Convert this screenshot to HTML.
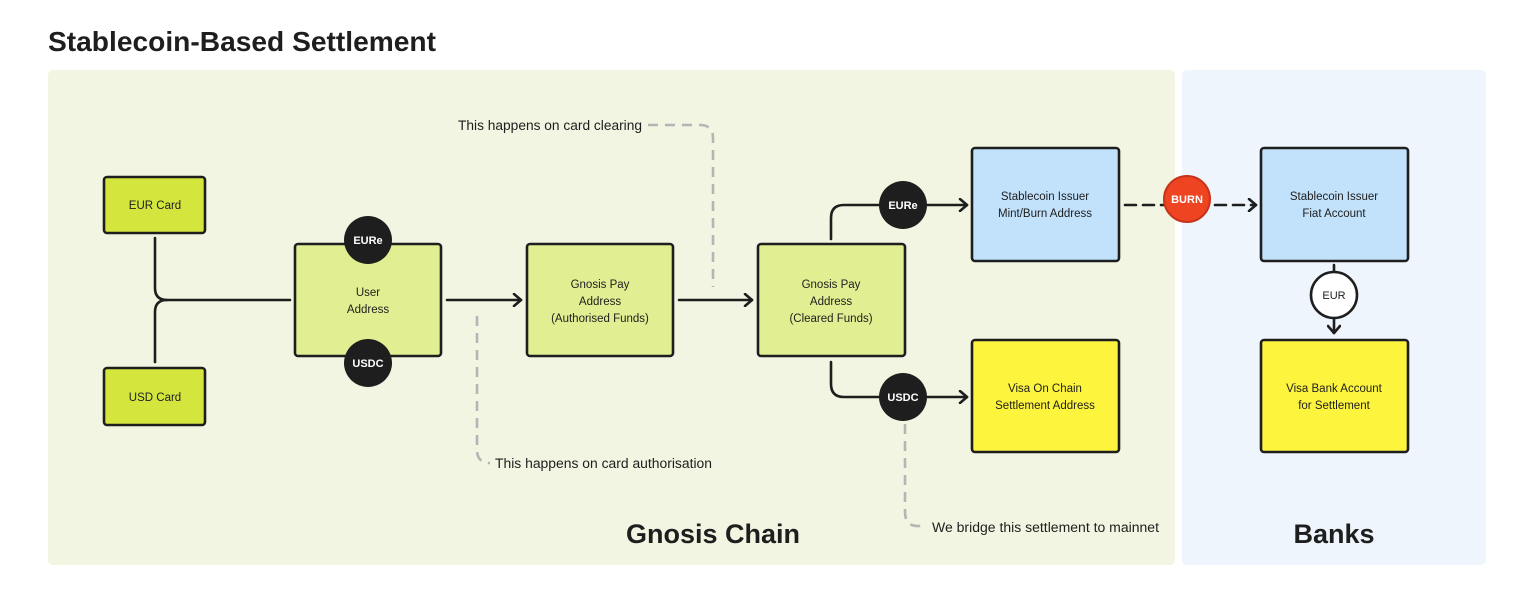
<!DOCTYPE html>
<html><head><meta charset="utf-8"><style>
html,body{margin:0;padding:0;background:#fff;width:1522px;height:605px;overflow:hidden}
svg{display:block}
text{font-family:"Liberation Sans",sans-serif}
</style></head><body>
<svg width="1522" height="605" viewBox="0 0 1522 605" xmlns="http://www.w3.org/2000/svg">
<defs>
<marker id="ah" markerWidth="14" markerHeight="14" refX="11" refY="7" orient="auto" markerUnits="userSpaceOnUse">
<path d="M4,1 L11,7 L4,13" fill="none" stroke="#1e1e1e" stroke-width="2.6" stroke-linecap="round" stroke-linejoin="round"/>
</marker>
</defs>
<text x="48" y="51" font-size="28" font-weight="bold" fill="#1e1e1e" textLength="388" lengthAdjust="spacingAndGlyphs">Stablecoin-Based Settlement</text>
<rect x="48" y="70" width="1127" height="495" rx="5" fill="#f1f5e1"/>
<rect x="1182" y="70" width="304" height="495" rx="5" fill="#eef5fc"/>

<g fill="none" stroke="#b5b5b5" stroke-width="2.6" stroke-dasharray="10,7">
<path d="M648,125 H700 Q713,125 713,138 V287"/>
<path d="M477,316 V450 Q477,463 490,463"/>
<path d="M905,424 V512 Q905,526 918,526 H926"/>
</g>
<g font-size="13.5" fill="#1e1e1e">
<text x="458" y="130" textLength="184" lengthAdjust="spacingAndGlyphs">This happens on card clearing</text>
<text x="495" y="468" textLength="217" lengthAdjust="spacingAndGlyphs">This happens on card authorisation</text>
<text x="932" y="532" textLength="227" lengthAdjust="spacingAndGlyphs">We bridge this settlement to mainnet</text>
</g>

<g fill="none" stroke="#1e1e1e" stroke-width="2.6" stroke-linecap="round">
<path d="M155,238 V288 Q155,300 167,300 H290"/>
<path d="M155,362 V312 Q155,300 167,300"/>
<path d="M447,300 H521" marker-end="url(#ah)"/>
<path d="M679,300 H752" marker-end="url(#ah)"/>
<path d="M831,239 V218 Q831,205 844,205 H967" marker-end="url(#ah)"/>
<path d="M831,362 V384 Q831,397 844,397 H967" marker-end="url(#ah)"/>
<path d="M1125,205 H1256" stroke-dasharray="11,7" marker-end="url(#ah)"/>
<path d="M1334,265 V333" marker-end="url(#ah)"/>
</g>

<g stroke="#1e1e1e" stroke-width="2.6">
<rect x="104" y="177" width="101" height="56" rx="3" fill="#d4e63d"/>
<rect x="104" y="368" width="101" height="57" rx="3" fill="#d4e63d"/>
<rect x="295" y="244" width="146" height="112" rx="3" fill="#e2ee92"/>
<rect x="527" y="244" width="146" height="112" rx="3" fill="#e2ee92"/>
<rect x="758" y="244" width="147" height="112" rx="3" fill="#e2ee92"/>
<rect x="972" y="148" width="147" height="113" rx="3" fill="#c2e2fc"/>
<rect x="1261" y="148" width="147" height="113" rx="3" fill="#c2e2fc"/>
<rect x="972" y="340" width="147" height="112" rx="3" fill="#fdf43e"/>
<rect x="1261" y="340" width="147" height="112" rx="3" fill="#fdf43e"/>
</g>
<g stroke="none">
<circle cx="368" cy="240" r="24" fill="#1e1e1e"/>
<circle cx="368" cy="363" r="24" fill="#1e1e1e"/>
<circle cx="903" cy="205" r="24" fill="#1e1e1e"/>
<circle cx="903" cy="397" r="24" fill="#1e1e1e"/>
</g>
<circle cx="1187" cy="199" r="23" fill="#ee4422" stroke="#c8341a" stroke-width="2"/>
<circle cx="1334" cy="295" r="23" fill="#ffffff" stroke="#1e1e1e" stroke-width="2.6"/>

<g font-size="11" font-weight="bold" fill="#fff" text-anchor="middle">
<text x="368" y="244">EURe</text>
<text x="368" y="367">USDC</text>
<text x="903" y="209">EURe</text>
<text x="903" y="401">USDC</text>
<text x="1187" y="203">BURN</text>
</g>
<text x="1334" y="299" font-size="11" fill="#1e1e1e" text-anchor="middle">EUR</text>

<g font-size="11.5" fill="#1e1e1e" text-anchor="middle">
<text x="155" y="209">EUR Card</text>
<text x="155" y="401">USD Card</text>
<text x="368" y="296">User</text>
<text x="368" y="313">Address</text>
<text x="600" y="288">Gnosis Pay</text>
<text x="600" y="305">Address</text>
<text x="600" y="322">(Authorised Funds)</text>
<text x="831" y="288">Gnosis Pay</text>
<text x="831" y="305">Address</text>
<text x="831" y="322">(Cleared Funds)</text>
<text x="1045" y="200">Stablecoin Issuer</text>
<text x="1045" y="217">Mint/Burn Address</text>
<text x="1334" y="200">Stablecoin Issuer</text>
<text x="1334" y="217">Fiat Account</text>
<text x="1045" y="392">Visa On Chain</text>
<text x="1045" y="409">Settlement Address</text>
<text x="1334" y="392">Visa Bank Account</text>
<text x="1334" y="409">for Settlement</text>
</g>

<text x="713" y="543" font-size="27" font-weight="bold" fill="#1e1e1e" text-anchor="middle" textLength="174" lengthAdjust="spacingAndGlyphs">Gnosis Chain</text>
<text x="1334" y="543" font-size="27" font-weight="bold" fill="#1e1e1e" text-anchor="middle">Banks</text>
</svg>
</body></html>
